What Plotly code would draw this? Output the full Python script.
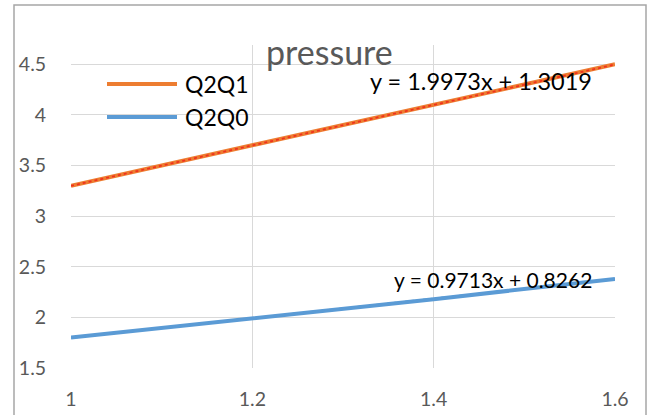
import plotly.graph_objects as go

# ---- data ----
x_vals = [1.0, 1.2, 1.4, 1.6]
q2q1 = [3.30, 3.70, 4.10, 4.50]
q2q0 = [1.80, 1.99, 2.18, 2.38]
series_names = ["Q2Q1", "Q2Q0"]
trend_slope = [1.9973, 0.9713]
trend_intercept = [1.3019, 0.8262]
x_ticks = [1.0, 1.2, 1.4, 1.6]
x_tick_text = ["1", "1.2", "1.4", "1.6"]
y_ticks = [1.5, 2.0, 2.5, 3.0, 3.5, 4.0, 4.5]
y_tick_text = ["1.5", "2", "2.5", "3", "3.5", "4", "4.5"]

ORANGE = "#ED7D31"
BLUE = "#5B9BD5"
TREND_RED = "#F0321E"
GRID = "#D9D9D9"
TXT = "#595959"
FONT = "Lato"

W, H = 655, 415
ML, MR, MT, MB = 71, 40, 45, 47
pw = W - ML - MR
ph = H - MT - MB


def px_x(p):
    return (p - ML) / pw


def px_y(p):
    return (H - MB - p) / ph


fig = go.Figure()
colors = [ORANGE, BLUE]
for name, ys, c in zip(series_names, [q2q1, q2q0], colors):
    fig.add_trace(go.Scatter(x=x_vals, y=ys, mode="lines", name=name,
                             line=dict(color=c, width=4), showlegend=False))

# trendlines
xt = [x_vals[0], x_vals[-1]]
trend_colors = [TREND_RED, BLUE]
for s, b, c in zip(trend_slope, trend_intercept, trend_colors):
    fig.add_trace(go.Scatter(x=xt, y=[s * v + b for v in xt], mode="lines",
                             line=dict(color=c, width=1.8, dash="dot"),
                             showlegend=False, hoverinfo="skip"))

# chart title
fig.add_annotation(text="pressure", xref="paper", yref="paper",
                   x=px_x(329), y=px_y(51), xanchor="center", yanchor="middle",
                   showarrow=False, font=dict(family=FONT, size=34, color=TXT))

# trendline equations
eq_texts = ["y = %.4fx + %.4f" % (s, b) for s, b in zip(trend_slope, trend_intercept)]
fig.add_annotation(text=eq_texts[0], xref="paper", yref="paper",
                   x=px_x(480.5), y=px_y(81), xanchor="center", yanchor="middle",
                   showarrow=False, font=dict(family=FONT, size=23.5, color="#000000"))
fig.add_annotation(text=eq_texts[1], xref="paper", yref="paper",
                   x=px_x(492.5), y=px_y(279.5), xanchor="center", yanchor="middle",
                   showarrow=False, font=dict(family=FONT, size=21, color="#000000"))

# manual legend
for i, (name, c) in enumerate(zip(series_names, colors)):
    yy = px_y(84 + i * 33)
    fig.add_shape(type="line", xref="paper", yref="paper",
                  x0=px_x(107), x1=px_x(177), y0=yy, y1=yy,
                  line=dict(color=c, width=4))
    fig.add_annotation(text=name, xref="paper", yref="paper",
                       x=px_x(183), y=yy, xanchor="left", yanchor="middle",
                       showarrow=False, font=dict(family=FONT, size=23, color="#000000"))

# chart border
fig.add_shape(type="rect", xref="paper", yref="paper",
              x0=px_x(14), x1=px_x(646), y0=px_y(460), y1=px_y(5),
              line=dict(color="#A6A6A6", width=1.5), fillcolor="rgba(0,0,0,0)")

fig.update_layout(
    width=W, height=H,
    margin=dict(l=ML, r=MR, t=MT, b=MB, pad=0, autoexpand=False),
    paper_bgcolor="white", plot_bgcolor="white",
    showlegend=False,
)
fig.update_xaxes(range=[1.0, 1.6], tickvals=x_ticks, ticktext=x_tick_text,
                 automargin=False,
                 showgrid=True, gridcolor=GRID, gridwidth=1.3,
                 zeroline=False, showline=False,
                 ticks="outside", ticklen=14, tickcolor="rgba(0,0,0,0)",
                 tickfont=dict(family=FONT, size=19.5, color=TXT))
fig.update_yaxes(range=[1.5, 4.69], tickvals=y_ticks, ticktext=y_tick_text,
                 automargin=False,
                 showgrid=True, gridcolor=GRID, gridwidth=1.3,
                 zeroline=False, showline=False,
                 ticks="outside", ticklen=20, tickcolor="rgba(0,0,0,0)",
                 tickfont=dict(family=FONT, size=19.5, color=TXT))

fig.write_html("out.html")
